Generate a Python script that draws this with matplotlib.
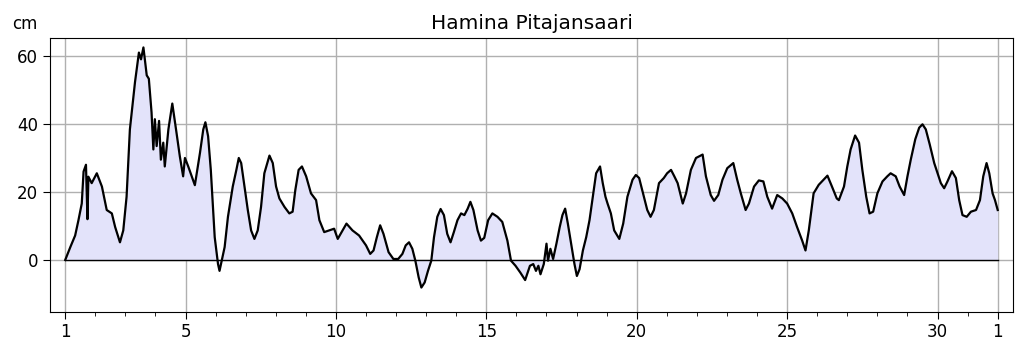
import matplotlib
matplotlib.use("Agg")
import matplotlib.pyplot as plt
from matplotlib.ticker import FixedLocator, MultipleLocator

# --- Data (day of month, sea level in cm) ---
day = [
    1.00, 1.17, 1.33, 1.44, 1.55, 1.61, 1.69, 1.74, 1.77, 1.88,
    2.05, 2.22, 2.38, 2.55, 2.66, 2.82, 2.93, 3.04, 3.15, 3.32,
    3.45, 3.52, 3.60, 3.71, 3.78, 3.87, 3.93, 3.98, 4.04, 4.12,
    4.18, 4.26, 4.31, 4.43, 4.56, 4.62, 4.70, 4.81, 4.92, 4.98,
    5.09, 5.31, 5.48, 5.59, 5.66, 5.75, 5.84, 5.97, 6.08,
    6.13, 6.30, 6.41, 6.57, 6.69, 6.77, 6.85, 6.96, 7.07, 7.18,
    7.29, 7.40, 7.51, 7.62, 7.79, 7.90, 8.01, 8.12, 8.29, 8.45,
    8.56, 8.65, 8.76, 8.87, 9.01, 9.17, 9.34, 9.45, 9.61, 9.78,
    9.94, 10.06, 10.22, 10.35, 10.55, 10.77, 11.00, 11.14, 11.25,
    11.36, 11.47, 11.58, 11.75, 11.91, 12.07, 12.21, 12.32, 12.43,
    12.54, 12.64, 12.75, 12.84, 12.95, 13.06, 13.17, 13.26, 13.37,
    13.48, 13.59, 13.70, 13.81, 13.92, 14.04, 14.16, 14.27, 14.38,
    14.47, 14.57, 14.71, 14.82, 14.93, 15.06, 15.20, 15.37, 15.53,
    15.70, 15.82, 15.97, 16.13, 16.29, 16.45, 16.56, 16.65, 16.73,
    16.80, 16.91, 17.00, 17.05, 17.13, 17.22, 17.33, 17.44, 17.53,
    17.62, 17.71, 17.82, 17.93, 18.01, 18.10, 18.21, 18.32, 18.43,
    18.54, 18.65, 18.78, 18.87, 18.96, 19.03, 19.14, 19.25, 19.42,
    19.55, 19.69, 19.86, 19.97, 20.08, 20.21, 20.35, 20.46, 20.57,
    20.74, 20.90, 21.01, 21.14, 21.25, 21.36, 21.53, 21.64, 21.80,
    21.97, 22.19, 22.30, 22.46, 22.57, 22.71, 22.85, 23.01, 23.21,
    23.34, 23.46, 23.62, 23.73, 23.90, 24.06, 24.21, 24.34, 24.50,
    24.67, 24.84, 25.00, 25.17, 25.33, 25.50, 25.61, 25.72, 25.88,
    26.05, 26.21, 26.34, 26.49, 26.65, 26.72, 26.89, 27.00, 27.11,
    27.26, 27.39, 27.50, 27.63, 27.74, 27.86, 28.00, 28.17, 28.33,
    28.44, 28.61, 28.74, 28.89, 29.00, 29.11, 29.26, 29.39, 29.50,
    29.61, 29.74, 29.89, 30.00, 30.11, 30.22, 30.33, 30.48, 30.61,
    30.72, 30.83, 30.97, 31.11, 31.28, 31.41, 31.52, 31.63, 31.72,
    31.83, 31.91, 32.00,
]
level = [
    0.0, 3.8, 7.2, 11.7, 16.6, 26.0, 28.0, 12.0, 24.5, 22.6,
    25.5, 21.6, 14.7, 13.7, 9.7, 5.2, 8.7, 18.6, 38.4, 52.3,
    61.0, 59.0, 62.5, 54.3, 53.3, 43.4, 32.5, 41.4, 33.5, 40.9,
    29.5, 34.5, 27.5, 38.4, 46.0, 42.4, 37.4, 30.5, 24.6, 30.0,
    27.5, 22.0, 31.5, 38.4, 40.5, 36.4, 26.5, 6.7, -1.2,
    -3.2, 3.8, 12.7, 21.6, 26.5, 30.0, 28.5, 21.6, 14.7, 8.7,
    6.2, 8.7, 15.6, 25.5, 30.7, 28.5, 21.6, 18.1, 15.6, 13.7,
    14.2, 20.6, 26.5, 27.5, 24.6, 19.6, 17.6, 11.7, 8.2, 8.7,
    9.2, 6.2, 8.7, 10.7, 8.7, 7.2, 4.3, 1.8, 2.8,
    6.7, 10.2, 7.7, 2.3, 0.3, 0.3, 1.8, 4.3, 5.2,
    3.3, -0.2, -5.1, -8.1, -6.6, -3.2, -0.2, 6.7, 12.7,
    15.0, 13.2, 7.7, 5.2, 8.2, 11.7, 13.7, 13.2, 15.1,
    17.1, 14.7, 8.7, 5.7, 6.5, 11.7, 13.7, 12.7, 11.2,
    5.7, -0.2, -1.7, -3.7, -5.9, -1.7, -1.2, -3.2, -1.7,
    -4.2, -1.2, 4.8, -0.2, 3.3, 0.3, 4.8, 9.7, 13.2,
    15.1, 10.7, 4.8, -1.2, -4.7, -2.7, 2.8, 6.7, 11.7,
    18.6, 25.5, 27.5, 22.6, 18.6, 16.6, 13.7, 8.7, 6.2,
    10.7, 18.6, 23.6, 25.0, 24.1, 19.6, 14.7, 12.7, 14.7,
    22.6, 24.1, 25.5, 26.5, 24.6, 22.6, 16.6, 19.6, 26.5,
    30.0, 31.0, 24.6, 19.1, 17.4, 19.1, 23.6, 27.0, 28.5,
    23.6, 19.6, 14.7, 16.6, 21.6, 23.4, 23.1, 18.6, 15.1,
    19.1, 18.1, 16.6, 13.7, 9.7, 5.7, 2.8, 8.7, 19.6,
    22.1, 23.6, 24.8, 21.6, 18.1, 17.6, 21.6, 27.5, 32.5,
    36.6, 34.5, 26.5, 18.6, 13.7, 14.2, 19.6, 23.1, 24.6,
    25.5, 24.6, 21.6, 19.1, 24.6, 29.5, 35.5, 38.9, 39.9,
    38.4, 34.0, 28.5, 25.5, 22.6, 21.1, 23.1, 26.1, 24.1,
    17.6, 13.2, 12.7, 14.2, 14.7, 17.6, 24.6, 28.5, 25.5,
    19.6, 17.6, 14.7,
]

major_days = [1, 5, 10, 15, 20, 25, 30, 32]
major_labels = ["1", "5", "10", "15", "20", "25", "30", "1"]
y_ticks = [0, 20, 40, 60]

fig = plt.figure(figsize=(10.24, 3.51), dpi=100)
ax = fig.add_axes([0.049, 0.112, 0.940, 0.779])

ax.fill_between(day, level, 0, color="#e3e3fa", linewidth=0, zorder=1)
ax.axhline(0, color="black", linewidth=1.0, zorder=2,
           xmin=(1 - 0.5) / 32.0, xmax=(32 - 0.5) / 32.0)
ax.plot(day, level, color="black", linewidth=1.6, zorder=3)

ax.set_xlim(0.5, 32.5)
ax.set_ylim(-15.2, 65.2)
ax.xaxis.set_major_locator(FixedLocator(major_days))
ax.set_xticklabels(major_labels)
ax.xaxis.set_minor_locator(MultipleLocator(1))
ax.set_yticks(y_ticks)
ax.grid(True, which="major", color="#b0b0b0", linewidth=1.0, zorder=0)
ax.set_axisbelow(True)
ax.tick_params(axis="both", which="major", labelsize=12, length=5)
ax.tick_params(axis="x", which="minor", length=3)

ax.set_title("Hamina Pitajansaari", fontsize=14.5, pad=7)
fig.text(0.012, 0.905, "cm", fontsize=12, ha="left", va="bottom")

fig.savefig("out.png", dpi=100)
